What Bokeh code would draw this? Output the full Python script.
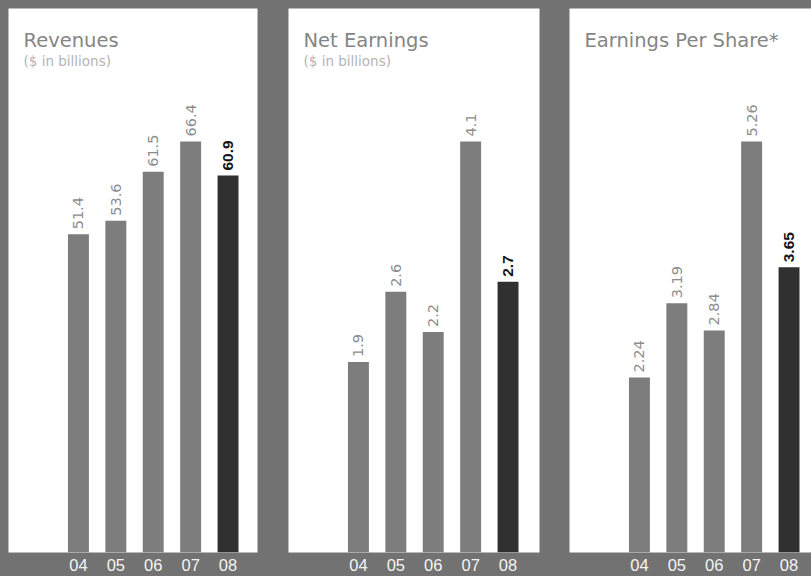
from bokeh.plotting import figure
from bokeh.layouts import row
from bokeh.models import Range1d, FixedTicker, ColumnDataSource, Label
from bokeh.core.properties import value
from bokeh.embed import file_html
from bokeh.resources import INLINE

# ---- data ----
years = ["04", "05", "06", "07", "08"]
revenues = [51.4, 53.6, 61.5, 66.4, 60.9]
net_earnings = [1.9, 2.6, 2.2, 4.1, 2.7]
eps = [2.24, 3.19, 2.84, 5.26, 3.65]
titles = ["Revenues", "Net Earnings", "Earnings Per Share*"]
subtitles = ["($ in billions)", "($ in billions)", ""]
decimals = [1, 1, 2]

# ---- style ----
STRIP = "#727272"
BAR = "#7d7d7d"
DARK = "#303030"
PX = 37.4          # pixels per category step
X0 = -1.87         # left edge of panel in category units
FRAME_H = 544
TOP_B = 8
BOT_B = 24
BAR_W = 0.56

panels = [(revenues, 8, 249, 31), (net_earnings, 0, 251, 30), (eps, 0, 242, 0)]

figs = []
for i, (vals, lb, pw, rb) in enumerate(panels):
    y_end = max(vals) * FRAME_H / 411.0
    x_end = X0 + pw / PX
    p = figure(width=lb + pw + rb, height=TOP_B + FRAME_H + BOT_B,
               x_range=Range1d(X0, x_end), y_range=Range1d(0, y_end),
               output_backend="svg", toolbar_location=None,
               min_border_left=lb, min_border_right=rb,
               min_border_top=TOP_B, min_border_bottom=BOT_B)
    p.background_fill_color = "white"
    p.border_fill_color = STRIP
    p.outline_line_color = None
    p.grid.visible = False
    p.yaxis.visible = False
    xs = list(range(len(years)))
    p.xaxis.ticker = FixedTicker(ticks=xs)
    p.xaxis.major_label_overrides = {k: years[k] for k in xs}
    p.xaxis.axis_line_color = None
    p.xaxis.major_tick_line_color = None
    p.xaxis.minor_tick_line_color = None
    p.xaxis.major_tick_out = 0
    p.xaxis.major_tick_in = 0
    p.xaxis.major_label_standoff = 6
    p.xaxis.major_label_text_color = "#f4f4f4"
    p.xaxis.major_label_text_font = "Liberation Sans"
    p.xaxis.major_label_text_font_size = "16.5px"

    colors = [BAR] * (len(vals) - 1) + [DARK]
    src = ColumnDataSource(dict(x=xs, top=vals, color=colors))
    p.vbar(x="x", top="top", width=BAR_W, bottom=0, source=src,
           fill_color="color", line_color=None)

    fmt = "{:.%df}" % decimals[i]
    labs = [fmt.format(v) for v in vals]
    src_n = ColumnDataSource(dict(x=xs[:-1], y=vals[:-1], t=labs[:-1]))
    src_h = ColumnDataSource(dict(x=xs[-1:], y=vals[-1:], t=labs[-1:]))
    p.text(x="x", y="y", text="t", source=src_n, angle=1.5708,
           text_align="left", text_baseline="middle", y_offset=-5,
           text_font=value("DejaVu Sans"), text_font_size="14.5px",
           text_color="#8d8d8d")
    p.text(x="x", y="y", text="t", source=src_h, angle=1.5708,
           text_align="left", text_baseline="middle", y_offset=-5,
           text_font=value("Liberation Sans"), text_font_size="15.5px",
           text_font_style="bold", text_color="#151515")

    tx = X0 + 15 / PX
    p.add_layout(Label(x=tx, y=y_end * (1 - 32 / FRAME_H), text=titles[i],
                       text_font="DejaVu Sans", text_font_size="19.5px",
                       text_color="#858585", text_baseline="alphabetic"))
    if subtitles[i]:
        p.add_layout(Label(x=tx, y=y_end * (1 - 52 / FRAME_H), text=subtitles[i],
                           text_font="DejaVu Sans", text_font_size="13.5px",
                           text_color="#b4b4b4", text_baseline="alphabetic"))
    figs.append(p)

layout = row(*figs, spacing=0)
html = file_html(layout, INLINE, title="Financial Highlights")
html = html.replace("</head>",
                    "<style>html,body{margin:0 !important;padding:0 !important;"
                    "overflow:hidden;background:%s;}</style></head>" % STRIP, 1)
open("out.html", "w").write(html)
